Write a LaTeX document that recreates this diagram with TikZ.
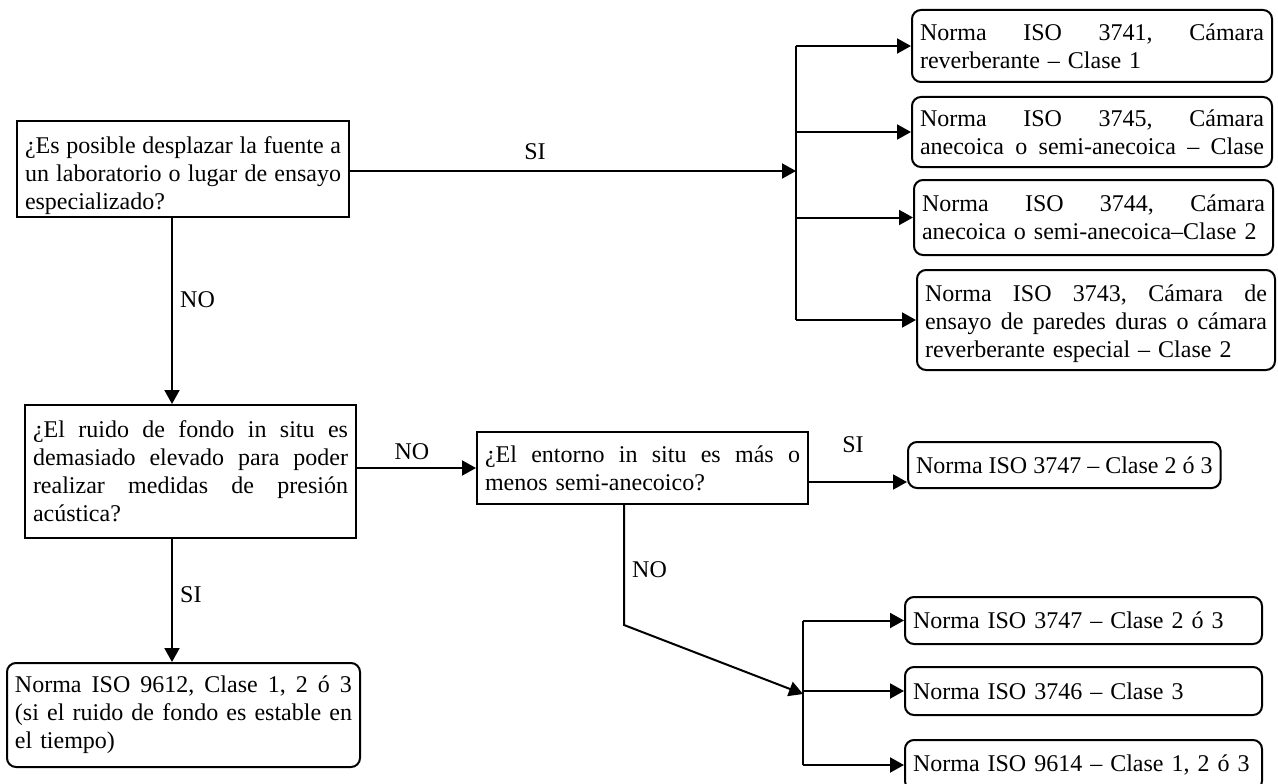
\documentclass[tikz,border=0pt]{standalone}
\usepackage{fontspec}
\setmainfont{Liberation Serif}
\usetikzlibrary{arrows.meta}
\newcommand\jl[1]{\makebox[\hsize][s]{\frenchspacing\spaceskip=0.25em plus 1fill\relax #1}}
\begin{document}
\begin{tikzpicture}[x=1pt,y=-1pt,
  every node/.style={font=\fontsize{24}{28}\selectfont},
  qbox/.style={draw, line width=2pt, inner xsep=8pt, inner ysep=0pt, align=left},
  rbox/.style={qbox, rounded corners=9pt},
  conn/.style={line width=2pt},
  arr/.style={conn, -{Triangle[length=14pt,width=15pt]}},
  lbl/.style={inner sep=0pt}]
\clip (0,0) rectangle (1278,784);
% question boxes
\node[qbox, minimum width=332pt, minimum height=96pt, text width=316pt, text height=30pt] (A) at (183,169)
  {\jl{¿Es posible desplazar la fuente a}\\ \jl{un laboratorio o lugar de ensayo}\\ especializado?};
\node[qbox, minimum width=331pt, minimum height=133pt, text width=315pt] (B) at (190.5,471.5)
  {\jl{¿El ruido de fondo in situ es}\\ \jl{demasiado elevado para poder}\\ \jl{realizar medidas de presión}\\ acústica?};
\node[qbox, minimum width=331pt, minimum height=72pt, text width=315pt] (C) at (642.5,468)
  {\jl{¿El entorno in situ es más o}\\ menos semi-anecoico?};
% result boxes top right
\node[rbox, minimum width=360pt, minimum height=72pt, text width=344pt] (R1) at (1092,46)
  {\jl{Norma ISO 3741, Cámara}\\ reverberante – Clase 1};
\node[rbox, minimum width=360pt, minimum height=70pt, text width=344pt] (R2) at (1092,132)
  {\jl{Norma ISO 3745, Cámara}\\ \jl{anecoica o semi-anecoica – Clase}};
\node[rbox, minimum width=359pt, minimum height=75pt, text width=343pt] (R3) at (1093.5,217.5)
  {\jl{Norma ISO 3744, Cámara}\\ anecoica o semi-anecoica–Clase 2};
\node[rbox, minimum width=358pt, minimum height=100pt, text width=342pt, text height=24pt] (R4) at (1096,320)
  {\jl{Norma ISO 3743, Cámara de}\\ \jl{ensayo de paredes duras o cámara}\\ reverberante especial – Clase 2};
% other result boxes
\node[rbox, minimum height=46pt, anchor=west] (D) at (907,465)
  {Norma ISO 3747 – Clase 2 ó 3};
\node[rbox, minimum width=357pt, minimum height=47pt, text width=341pt] (E1) at (1083.5,620.5)
  {Norma ISO 3747 – Clase 2 ó 3};
\node[rbox, minimum width=357pt, minimum height=48pt, text width=341pt] (E2) at (1083.5,691)
  {Norma ISO 3746 – Clase 3};
\node[rbox, minimum width=357pt, minimum height=50pt, text width=341pt] (E3) at (1083.5,765)
  {Norma ISO 9614 – Clase 1, 2 ó 3};
\node[rbox, minimum width=353pt, minimum height=104pt, text width=337pt] (F) at (183.5,715)
  {\jl{Norma ISO 9612, Clase 1, 2 ó 3}\\ \jl{(si el ruido de fondo es estable  en}\\ el tiempo)};
% junction coordinates
\coordinate (J1) at (796,171);
\coordinate (X1) at (172,0);
\coordinate (YD) at (0,482);
\coordinate (K1) at (624,625);
\coordinate (J2) at (803,694);
% connectors
\draw[arr] (A.east |- J1) -- (J1);
\draw[conn] (J1 |- R1.west) -- (J1 |- R4.west);
\foreach \r in {R1,R2,R3,R4} \draw[arr] (J1 |- \r.west) -- (\r.west);
\draw[arr] (A.south -| X1) -- (B.north -| X1);
\draw[arr] (B.south -| X1) -- (F.north -| X1);
\draw[arr] (B.east |- C.west) -- (C.west);
\draw[arr] (C.east |- YD) -- (D.west |- YD);
\draw[arr] (C.south -| K1) -- (K1) -- (J2);
\draw[conn] (J2 |- E1.west) -- (J2 |- E3.west);
\foreach \e in {E1,E2,E3} \draw[arr] (J2 |- \e.west) -- (\e.west);
% labels
\node[lbl] (l1) at (535,152) {SI};
\node[lbl, anchor=west] (l2) at (180,300) {NO};
\node[lbl] (l3) at (412,452) {NO};
\node[lbl] (l4) at (853,445) {SI};
\node[lbl, anchor=west] (l5) at (632,570) {NO};
\node[lbl, anchor=west] (l6) at (180,595) {SI};
\end{tikzpicture}
\end{document}
